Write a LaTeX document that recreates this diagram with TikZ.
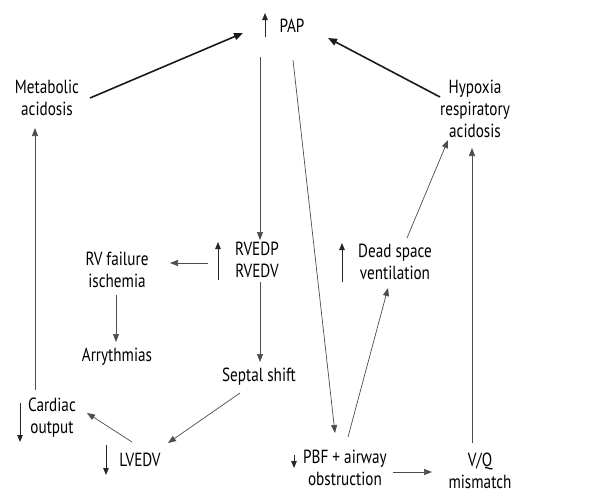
\documentclass[tikz,border=0pt]{standalone}
\usepackage{fontspec}
\setmainfont[FakeStretch=0.8]{PT Sans}
\usetikzlibrary{arrows.meta,calc}
\tikzset{
  lbl/.style={inner sep=0pt, align=center, font=\fontsize{19}{22}\selectfont, text=black},
  thin/.style={draw=black!70, line width=0.7pt, -{Triangle[length=8pt,width=6pt]}},
  thick/.style={draw=black!90, line width=1.6pt, -{Triangle[length=9pt,width=7pt]}},
  ind/.style={draw=black!85, line width=0.9pt, -{Triangle[length=7pt,width=5.5pt]}},
}
\begin{document}
\begin{tikzpicture}[x=1pt,y=-1pt]
\useasboundingbox (0,0) rectangle (605,493);
\node[lbl] (pap) at (292,26) {PAP};
\node[lbl] (met) at (47,98) {Metabolic\\acidosis};
\node[lbl] (hyp) at (475,109) {Hypoxia\\respiratory\\acidosis};
\node[lbl] (rv) at (257,260) {RVEDP\\RVEDV};
\node[lbl] (rvf) at (117,270) {RV failure\\ischemia};
\node[lbl] (arr) at (117,357) {Arrythmias};
\node[lbl] (sep) at (259,377) {Septal shift};
\node[lbl] (lv) at (140,460) {LVEDV};
\node[lbl] (co) at (52,418) {Cardiac\\output};
\node[lbl] (pbf) at (345,468) {PBF + airway\\obstruction};
\node[lbl] (ds) at (395,262) {Dead space\\ventilation};
\node[lbl] (vq) at (480,471) {V/Q\\mismatch};
% connectors
\draw[thick] ($(met)+(43,0)$) -- ($(pap)+(-49,7)$);
\draw[thick] ($(hyp)+(-35,-12)$) -- ($(pap)+(36,12)$);
\draw[thin] ($(pap)+(-32,31)$) -- ($(rv)+(3,-20)$);
\draw[thin] ($(pap)+(1,34)$) -- ($(pbf)+(-10,-35)$);
\draw[thin] ($(rv)+(-49,3)$) -- ($(rvf)+(53,-7)$);
\draw[thin] ($(rvf)+(-1,25)$) -- ($(arr)+(-1,-15)$);
\draw[thin] ($(rv)+(3,22)$) -- ($(sep)+(1,-15)$);
\draw[thin] ($(sep)+(-19,16)$) -- ($(lv)+(28,-17)$);
\draw[thin] ($(lv)+(-8,-18)$) -- ($(co)+(35,-5)$);
\draw[thin] ($(co)+(-17,-28)$) -- ($(met)+(-12,30)$);
\draw[thin] ($(pbf)+(3,-31)$) -- ($(ds)+(-7,26)$);
\draw[thin] ($(ds)+(12,-24)$) -- ($(hyp)+(-27,31)$);
\draw[thin] ($(pbf)+(48,4)$) -- ($(vq)+(-48,1)$);
\draw[thin] ($(vq)+(-8,-28)$) -- ($(hyp)+(-3,39)$);
% indicator arrows
\draw[ind] ($(pap)+(-27,11)$) -- ($(pap)+(-27,-13)$);
\draw[ind] ($(rv)+(-39,20)$) -- ($(rv)+(-39,-18)$);
\draw[ind] ($(ds)+(-53,20)$) -- ($(ds)+(-53,-19)$);
\draw[ind] ($(co)+(-32,-15)$) -- ($(co)+(-32,24)$);
\draw[ind] ($(lv)+(-34,-15)$) -- ($(lv)+(-34,15)$);
\draw[ind] ($(pbf)+(-51,-13)$) -- ($(pbf)+(-51,0)$);
\end{tikzpicture}
\end{document}
